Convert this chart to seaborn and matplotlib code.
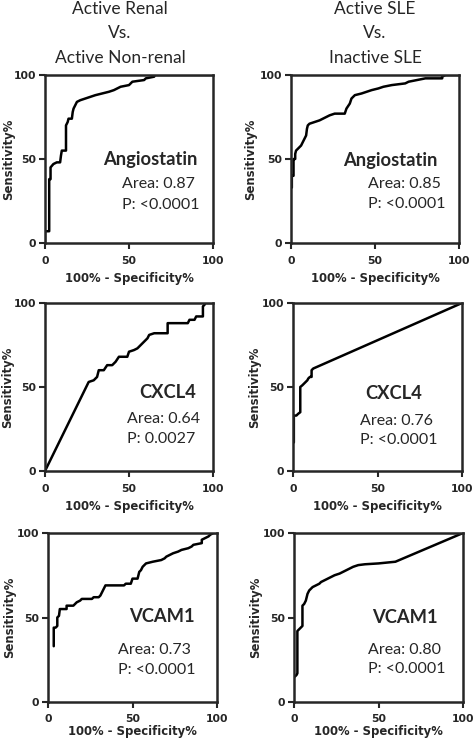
import numpy as np
import matplotlib
matplotlib.use("Agg")
import matplotlib.pyplot as plt
import seaborn as sns

# --- ROC curve points (100% - specificity, sensitivity) ---
renal_angio_x = [0, 0, 2.5, 2.5, 3.3, 3.3, 5, 7, 9, 9.5, 10, 12.5, 12.5, 13.5, 14, 16, 16.5, 17, 18, 19,
                 21, 24, 27, 30, 34, 38, 41, 43, 45, 50, 51, 52, 59, 60, 65, 65, 100]
renal_angio_y = [0, 7, 7, 38, 38, 45, 47, 48, 48, 52, 55, 55, 70, 72, 74, 74, 78, 80, 82, 84,
                 85, 86, 87, 88, 89, 90, 91, 92, 93, 94, 95, 96, 97, 98, 99, 100, 100]

sle_angio_x = [0.5, 0.5, 1.5, 1.5, 2.5, 2.5, 3, 4, 5, 6, 7, 8, 9, 9.5, 10, 11, 14, 17, 19, 21,
               23, 26, 32, 33, 35, 36, 38, 42, 45, 48, 52, 55, 60, 68, 70, 75, 80, 90, 90, 92, 100]
sle_angio_y = [33, 40, 40, 50, 50, 53, 55, 56, 57, 58, 60, 62, 64, 68, 70, 71, 72, 73, 74, 75,
               76, 77, 77, 80, 83, 86, 88, 89, 90, 91, 92, 93, 94, 95, 96, 97, 98, 98, 99, 100, 100]

renal_cxcl4_x = [0, 26, 29, 31, 32, 35, 37, 40, 42, 44, 49, 50, 53, 55, 57, 59, 61, 62, 65, 73,
                 73, 85, 86, 89, 90, 94, 94, 95, 95, 100]
renal_cxcl4_y = [0, 53, 54, 56, 60, 60, 63, 63, 65, 68, 68, 71, 72, 73, 75, 77, 79, 81, 82, 82,
                 88, 88, 90, 90, 92, 92, 98, 99, 100, 100]

sle_cxcl4_x = [0.5, 0.5, 2, 3, 4.3, 4.3, 5.5, 6.5, 7.5, 8.5, 9, 10, 11, 11, 12, 100]
sle_cxcl4_y = [17, 33, 33, 34, 35, 50, 51, 52, 53, 54, 55, 56, 56, 60, 61, 100]

renal_vcam1_x = [3.4, 3.4, 4.5, 5.5, 5.5, 6.5, 7, 11, 11, 15, 16, 17, 19, 20, 26, 27, 30, 31, 32, 33,
                 34, 45, 46, 49, 50, 53, 54, 55, 56, 58, 62, 67, 69, 70, 72, 74, 77, 79, 83, 85,
                 86, 91, 91, 93, 95, 96, 98, 100]
renal_vcam1_y = [33, 44, 44, 45, 50, 51, 55, 55, 57, 57, 58, 59, 60, 61, 61, 62, 62, 63, 65, 67,
                 69, 69, 70, 70, 73, 73, 77, 78, 80, 82, 83, 84, 85, 86, 87, 88, 89, 90, 91, 92,
                 93, 94, 96, 97, 98, 99, 100, 100]

sle_vcam1_x = [0.5, 1.5, 2, 2, 3, 4, 5, 5, 6, 7, 7.5, 8, 9, 10, 11, 13, 15, 16, 18, 20,
               22, 24, 27, 29, 31, 33, 35, 38, 42, 50, 60, 100]
sle_vcam1_y = [15, 16, 17, 42, 43, 44, 45, 57, 58, 60, 62, 64, 66, 67, 68, 69, 70, 71, 72, 73,
               74, 75, 76, 77, 78, 79, 80, 81, 81.5, 82, 83, 100]

markers = ["Angiostatin", "Angiostatin", "CXCL4", "CXCL4", "VCAM1", "VCAM1"]
areas = ["0.87", "0.85", "0.64", "0.76", "0.73", "0.80"]
pvals = ["<0.0001", "<0.0001", "0.0027", "<0.0001", "<0.0001", "<0.0001"]
col_titles = [["Active Renal", "Vs.", "Active Non-renal"],
              ["Active SLE", "Vs.", "Inactive SLE"]]

curves = [(renal_angio_x, renal_angio_y), (sle_angio_x, sle_angio_y),
          (renal_cxcl4_x, renal_cxcl4_y), (sle_cxcl4_x, sle_cxcl4_y),
          (renal_vcam1_x, renal_vcam1_y), (sle_vcam1_x, sle_vcam1_y)]

# where the text block sits in each panel (data coords)
name_pos = [(34.7, 49.5), (31, 49), (56, 46.5), (43, 46), (48, 50.5), (46.5, 50)]
stat_pos = [(46, 35, 22.6), (46, 35, 23), (49, 30.7, 19.2), (39.4, 29.7, 18.7),
            (41.6, 30.7, 19.2), (44, 31, 19.4)]

sns.set_style("ticks")
plt.rcParams['font.family'] = ['DejaVu Sans']

W, H = 473, 742
fig = plt.figure(figsize=(W / 100, H / 100), dpi=100)

# axes boxes in pixels: left, top, right, bottom ; ylabel x offset (axes fraction)
boxes = [(45, 75, 213, 243), (291, 75, 459, 243),
         (45, 303, 213, 471), (293, 303, 462, 471),
         (48, 533, 217, 702), (294, 533, 463, 702)]
ylab_x = [-0.214, -0.238, -0.22, -0.23, -0.23, -0.23]
xlab_pad = [4, 4, 4, 4, 0.5, 0.5]
xtick_pad = [5, 5, 5, 5, 4, 4]

for i, (l, t, r, b) in enumerate(boxes):
    ax = fig.add_axes([l / W, (H - b) / H, (r - l) / W, (b - t) / H])
    cx, cy = curves[i]
    sns.lineplot(x=cx, y=cy, ax=ax, color="black", linewidth=1.8, sort=False, estimator=None)
    ax.set_xlim(0, 100)
    ax.set_ylim(0, 100)
    ax.set_xticks([0, 50, 100])
    ax.set_yticks([0, 50, 100])
    for s in ax.spines.values():
        s.set_linewidth(1.8)
        s.set_visible(True)
    ax.tick_params(direction="out", length=4.5, width=1.5, labelsize=7.8)
    ax.tick_params(axis="x", pad=xtick_pad[i])
    ax.tick_params(axis="y", pad=2)
    for lab in ax.get_xticklabels() + ax.get_yticklabels():
        lab.set_fontweight("bold")
    ax.set_xlabel("100% - Specificity%", fontsize=8.4, fontweight="bold", labelpad=xlab_pad[i])
    ax.set_ylabel("Sensitivity%", fontsize=8.4, fontweight="bold")
    ax.yaxis.label.set_va("center")
    ax.yaxis.set_label_coords(ylab_x[i], 0.5)

    nx, ny = name_pos[i]
    ax.text(nx, ny, markers[i], fontsize=13.2, fontweight="bold", family="Lato",
            ha="left", va="center")
    sx, ay, py = stat_pos[i]
    ax.text(sx, ay, "Area: " + areas[i], fontsize=11.5, family="Lato", ha="left", va="center")
    ax.text(sx, py, "P: " + pvals[i], fontsize=11.5, family="Lato", ha="left", va="center")

for cx_pix, lines in zip([120, 375], col_titles):
    for j, line in enumerate(lines):
        fig.text(cx_pix / W, 1 - (9 + 24.5 * j) / H, line, fontsize=12.5, family="Lato",
                 ha="center", va="center")

fig.savefig("out.png", dpi=100)
